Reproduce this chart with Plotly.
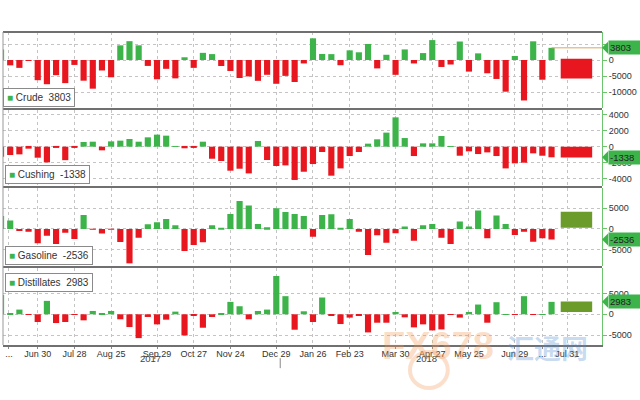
import plotly.graph_objects as go
from plotly.subplots import make_subplots
import pandas as pd

# ---------------- data ----------------
weeks = pd.date_range("2017-06-02", periods=61, freq="7D")

series_names = ["Crude", "Cushing", "Gasoline", "Distillates"]
latest_labels = ["3803", "-1338", "-2536", "2983"]

crude = [3300, -1660, -2450, -100, -6300, -7560, -4730, -7210, -1530, -6450,
         -8950, -3270, -5390, 4580, 5890, 4590, -1840, -6020, -2750, -5730,
         860, -2440, 2240, 1850, -1860, -3420, -5610, -5120, -6500, -4610,
         -7420, -4950, -6860, -1070, 6780, 1900, 1840, -1620, 3020, 2410,
         5020, -2620, 1640, -4620, 3310, -1070, 2170, 6220, -2170, -1400,
         5780, -3620, 2080, -4140, -5910, -9890, 1250, -12630, 5840, -6150,
         3803]
cushing = [-1260, -1050, -970, -250, -1390, -1980, -80, -1700, -50, 590,
           630, -460, 670, 760, 970, 630, 1180, 1520, 1390, 50,
           -200, -50, 630, -1520, -1810, -3030, -2780, -3370, 720, -1680,
           -2440, -2360, -4200, -3160, -2190, -670, -3660, -2740, -1180, -670,
           380, 930, 1770, 3700, 1090, -1180, 420, 420, 1350, 50,
           -1140, -590, -930, -720, -1180, -2740, -2100, -2020, -840, -1140,
           -1338]
gasoline = [3100, 2000, -500, -640, -3440, -1600, -3600, -900, -2400, 3360,
            -200, -1100, -100, -3120, -8240, -2080, 1120, 1600, 2400, 880,
            -5280, -3840, -3200, 880, 100, 3600, 6720, 5600, 1200, 400,
            4960, 4080, 3600, 3120, -1840, 3360, 3520, 100, 2400, -640,
            -6240, -1520, -3280, -1040, 560, -2800, 880, 1200, -2080, -3600,
            1760, 560, 4400, -2240, 3200, 1200, -1440, -640, -3040, -2240,
            -2536]
distillates = [4600, 300, 1130, -150, -1850, 3220, -2100, -1850, -100, -1450,
               800, 100, 800, -1200, -3060, -5720, -640, -2420, -1290, 640,
               -5080, -250, -3220, -640, 300, 2980, 1930, -1200, 800, 1130,
               9190, 4350, -3700, 720, -1850, 4030, -320, -2340, -800, -320,
               -4350, -2020, -2020, 560, -730, -3140, -2420, -3870, -3630, -50,
               -800, 560, 2340, -2020, 2900, 50, -50, 4350, -150, 50,
               2983]
series = [crude, cushing, gasoline, distillates]

# range boxes drawn at the right end
box_date = "2018-08-15"
box_low = [-5800, -1350, 300, 550]
box_high = [400, 0, 4100, 3050]

tick_dates = ["2017-06-08", "2017-06-30", "2017-07-28", "2017-08-25", "2017-09-29",
              "2017-10-27", "2017-11-24", "2017-12-29", "2018-01-26", "2018-02-23",
              "2018-03-30", "2018-04-27", "2018-05-25", "2018-06-29", "2018-07-20",
              "2018-08-08"]
tick_labels = ["...", "Jun 30", "Jul 28", "Aug 25", "Sep 29", "Oct 27", "Nov 24",
               "Dec 29", "Jan 26", "Feb 23", "Mar 30", "Apr 27", "May 25", "Jun 29",
               "...", "Jul 31"]
year_labels = ["2017", "2018"]

y_ticks = [[5000, 0, -5000, -10000],
           [4000, 2000, 0, -2000, -4000],
           [5000, 0, -5000],
           [5000, 0, -5000]]

# ---------------- style ----------------
GREEN = "#3db44a"
RED = "#e8161e"
OLIVE = "#6b9b2b"
box_colors = [RED, RED, OLIVE, OLIVE]
FONT = "Liberation Sans Narrow, Arial Narrow, Liberation Sans, Arial, sans-serif"
DAY_MS = 86400000

domains = [[0.757, 1.0], [0.508, 0.751], [0.252, 0.502], [0.0, 0.246]]
y_ranges = [[-15000, 8750], [-4960, 4635], [-8900, 9840], [-7370, 11110]]
legend_pos = [(0.0, 0.792), (0.0033, 0.546), (0.0033, 0.2875), (0.0033, 0.1997)]

fig = make_subplots(rows=4, cols=1, shared_xaxes=True, vertical_spacing=0.005)

for i, vals in enumerate(series):
    r = i + 1
    colors = [GREEN if v >= 0 else RED for v in vals]
    fig.add_trace(go.Bar(x=weeks, y=vals, marker_color=colors, marker_line_width=0,
                         width=[4.7 * DAY_MS] * len(vals), showlegend=False,
                         hoverinfo="skip"), row=r, col=1)
    fig.add_trace(go.Bar(x=[box_date], y=[box_high[i] - box_low[i]], base=[box_low[i]],
                         marker_color=box_colors[i], marker_line_width=0,
                         width=[24 * DAY_MS], showlegend=False, hoverinfo="skip"),
                  row=r, col=1)

# last-value line in crude panel
fig.add_trace(go.Scatter(x=[weeks[-1], "2018-09-05"], y=[crude[-1], crude[-1]],
                         mode="lines", line=dict(color="#d9a860", width=1),
                         showlegend=False, hoverinfo="skip"), row=1, col=1)

fig.update_layout(barmode="overlay", width=640, height=400,
                  margin=dict(l=3, r=35, t=32, b=55),
                  paper_bgcolor="white", plot_bgcolor="white",
                  font=dict(family=FONT, size=9, color="#333"))

for i in range(4):
    yname = "yaxis" if i == 0 else f"yaxis{i+1}"
    xname = "xaxis" if i == 0 else f"xaxis{i+1}"
    fig.layout[yname].update(domain=domains[i], range=y_ranges[i], side="right",
                             tickvals=y_ticks[i], ticktext=[str(t) for t in y_ticks[i]],
                             showgrid=True, gridcolor="#c4c4c4", griddash="dot",
                             zeroline=False, showline=True, linecolor="#6cc46c",
                             linewidth=1, ticks="outside", ticklen=4,
                             tickcolor="#6cc46c", tickfont=dict(size=9, color="#333"),
                             fixedrange=True)
    fig.layout[xname].update(type="date", range=["2017-06-03 12:00", "2018-09-03 12:00"],
                             tickvals=tick_dates, ticktext=tick_labels,
                             showgrid=True, gridcolor="#c4c4c4", griddash="dot",
                             zeroline=False, showline=False, fixedrange=True)

fig.layout.xaxis4.update(showline=True, linecolor="#707070", linewidth=2,
                         ticks="outside", ticklen=2, tickcolor="#888",
                         ticklabelstandoff=-3,
                         tickfont=dict(size=9, color="#333"))

shapes = []
# panel separators and top border
for yp in [1.0, 0.754, 0.505, 0.249]:
    shapes.append(dict(type="line", xref="paper", yref="paper", x0=0, x1=1, y0=yp, y1=yp,
                       line=dict(color="#707070", width=2)))
# left border
shapes.append(dict(type="line", xref="paper", yref="paper", x0=0, x1=0, y0=0, y1=1,
                   line=dict(color="#999", width=1)))
# year separator
shapes.append(dict(type="line", xref="x4", yref="paper", x0="2018-01-01", x1="2018-01-01",
                   y0=-0.042, y1=-0.074, line=dict(color="#888", width=1)))

annotations = []
for i in range(4):
    yref = "y" if i == 0 else f"y{i+1}"
    val = series[i][-1]
    # value tag pointer
    shapes.append(dict(type="path", xref="paper", yref=yref, xsizemode="pixel",
                       ysizemode="pixel", xanchor=1, yanchor=val,
                       path="M 0 0 L 6 -6 L 6 6 Z", fillcolor=GREEN, line=dict(width=0)))
    annotations.append(dict(xref="paper", yref=yref, x=1, y=val, xanchor="left",
                            yanchor="middle", xshift=6, text=latest_labels[i],
                            showarrow=False, bgcolor=GREEN, borderpad=1, width=34,
                            align="left", font=dict(size=9.5, color="#222", family=FONT)))
    # legend box
    lx, ly = legend_pos[i]
    annotations.append(dict(xref="paper", yref="paper", x=lx, y=ly, xanchor="left",
                            yanchor="middle", showarrow=False,
                            text=f'<span style="color:{GREEN}">■</span> {series_names[i]}  {latest_labels[i]}',
                            bgcolor="white", bordercolor="#8a8a8a", borderwidth=1,
                            borderpad=3, font=dict(size=10, color="#333", family=FONT)))

# year labels
for lbl, px in zip(year_labels, [139, 441]):
    annotations.append(dict(xref="paper", yref="paper", x=(px - 3) / 602, y=-0.066,
                            text=lbl, showarrow=False, font=dict(size=9.5, color="#444")))

# watermark
shapes.append(dict(type="circle", xref="paper", yref="paper",
                   x0=(412 - 3) / 602, x1=(450 - 3) / 602,
                   y0=(345 - 388) / 313, y1=(345 - 352) / 313,
                   line=dict(color="rgba(240,140,70,0.28)", width=4)))
annotations.append(dict(xref="paper", yref="paper", x=(498 - 3) / 602, y=(345 - 369) / 313,
                        text="<b>FX678</b>", showarrow=False,
                        font=dict(size=38, color="rgba(245,150,80,0.33)", family=FONT)))
annotations.append(dict(xref="paper", yref="paper", x=(593 - 3) / 602, y=(345 - 369) / 313,
                        text="<b>汇通网</b>", showarrow=False,
                        font=dict(size=27, color="rgba(80,140,210,0.33)",
                                  family="Noto Sans CJK SC")))

fig.update_layout(shapes=shapes, annotations=annotations)

fig.write_html("out.html", config={"displayModeBar": False},
               post_script="document.body.style.margin='0px';")
